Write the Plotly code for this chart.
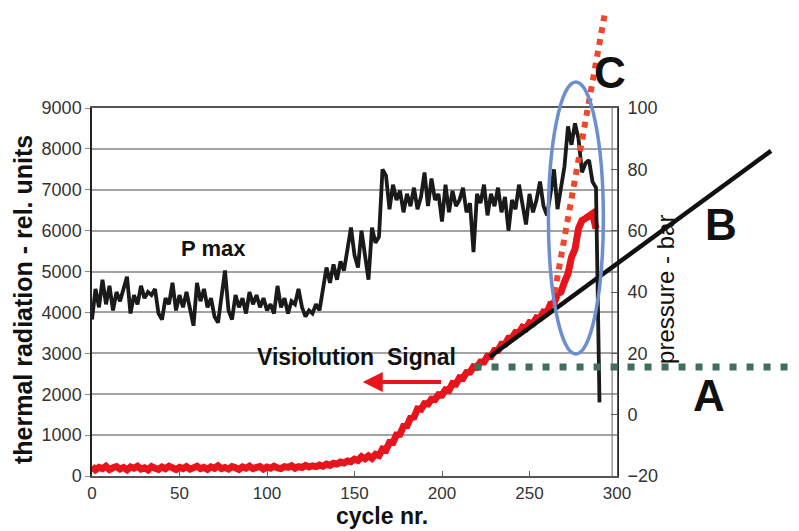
import plotly.graph_objects as go

# ---------------- data ----------------
cycles = list(range(0, 292, 2))  # cycle numbers, every 2nd cycle

# P max (pressure, bar)
p_max = [
    31, 41, 35, 44, 36, 42, 34, 40, 37, 41, 45, 33, 39, 36, 42, 38, 40, 39, 41, 33,
    31, 38, 36, 43, 34, 39, 35, 40, 34, 29, 43, 37, 41, 35, 38, 32, 30, 38, 47, 34,
    31, 39, 35, 38, 33, 40, 36, 39, 35, 38, 34, 36, 33, 42, 35, 38, 33, 37, 36, 41,
    35, 32, 34, 33, 36, 34, 41, 48, 43, 49, 44, 50, 47, 55, 61, 52, 48, 60, 52, 44,
    61, 56, 58, 80, 78, 67, 75, 70, 73, 66, 72, 68, 74, 67, 71, 79, 68, 77, 70, 72,
    63, 75, 66, 73, 68, 70, 74, 66, 69, 53, 72, 69, 75, 65, 72, 68, 74, 66, 71, 60,
    70, 67, 75, 69, 62, 72, 66, 70, 76, 68, 65, 72, 80, 67, 74, 81, 94, 88, 95, 90,
    79, 82, 83, 76, 74, 4,
]

# Visiolution signal (thermal radiation, rel. units)
visiolution = [
    230, 150, 210, 180, 240, 160, 200, 230, 170, 210, 150, 220, 190, 240, 170, 200,
    150, 230, 190, 160, 220, 180, 240, 200, 160, 210, 180, 230, 170, 200, 240, 180,
    210, 160, 220, 190, 250, 180, 210, 170, 230, 200, 160, 220, 190, 240, 180, 210,
    230, 170, 220, 190, 240, 200, 180, 230, 210, 250, 190, 230, 210, 260, 220, 250,
    230, 270, 240, 290, 260, 310, 290, 340, 320, 370, 350, 410, 380, 470, 420, 490,
    430, 530, 500, 660, 640, 820, 820, 1010, 1020, 1220, 1230, 1420, 1440, 1640, 1630, 1770,
    1760, 1880, 1870, 1990, 1980, 2110, 2100, 2260, 2250, 2400, 2390, 2530, 2540, 2670,
    2660, 2790, 2790, 2930, 2920, 3070, 3070, 3220, 3220, 3370, 3380, 3510, 3500, 3640,
    3610, 3750, 3730, 3870, 3860, 4010, 4000, 4200, 4220, 4450, 4500, 4750, 4950, 5350,
    5550, 6050, 6250, 6300, 6350, 6420, 6050,
]
vis_cycles = cycles[:len(visiolution)]

x_ticks = [0, 50, 100, 150, 200, 250, 300]
y_ticks = [0, 1000, 2000, 3000, 4000, 5000, 6000, 7000, 8000, 9000]
y2_ticks = [-20, 0, 20, 40, 60, 80, 100]

X_RANGE = [0, 300]
Y_RANGE = [0, 9000]
Y2_RANGE = [-20, 100]


def to_paper(c, v):
    """cycle / thermal-units -> paper coordinates (may lie outside 0..1)"""
    return ((c - X_RANGE[0]) / (X_RANGE[1] - X_RANGE[0]),
            (v - Y_RANGE[0]) / (Y_RANGE[1] - Y_RANGE[0]))


FONT = "Liberation Sans, Arial, sans-serif"

fig = go.Figure()
fig.add_trace(go.Scatter(
    x=vis_cycles, y=visiolution, mode="lines", name="Visiolution Signal",
    line=dict(color="#e8141c", width=7), yaxis="y"))
fig.add_trace(go.Scatter(
    x=cycles, y=p_max, mode="lines", name="P max",
    line=dict(color="#1a1a1a", width=3.8), yaxis="y2"))

shapes = []
# darker grid lines
for v in (5000, 7000):
    shapes.append(dict(type="line", xref="x", yref="y", x0=0, x1=300, y0=v, y1=v,
                       line=dict(color="#111", width=1.2), layer="below"))
# inner right border (double line)
shapes.append(dict(type="line", xref="x", yref="paper", x0=297.2, x1=297.2, y0=0, y1=1,
                   line=dict(color="#666", width=1)))

# A : green dotted horizontal
ax0, ay0 = to_paper(218.6, 2666)
ax1, ay1 = to_paper(404, 2666)
shapes.append(dict(type="line", xref="paper", yref="paper", x0=ax0, y0=ay0, x1=ax1, y1=ay1,
                   line=dict(color="#41705a", width=7, dash="7px,10px")))
# B : black solid
bx0, by0 = to_paper(227.2, 2911)
bx1, by1 = to_paper(388, 7950)
shapes.append(dict(type="line", xref="paper", yref="paper", x0=bx0, y0=by0, x1=bx1, y1=by1,
                   line=dict(color="#111", width=4.5)))
# C : red dotted
cx0, cy0 = to_paper(264.3, 4476)
cx1, cy1 = to_paper(293.4, 11398)
shapes.append(dict(type="line", xref="paper", yref="paper", x0=cx0, y0=cy0, x1=cx1, y1=cy1,
                   line=dict(color="#f0462a", width=6, dash="dot")))
# blue ellipse
ex0, ey0 = to_paper(260.8, 2984)
ex1, ey1 = to_paper(292.2, 9637)
shapes.append(dict(type="circle", xref="paper", yref="paper", x0=ex0, y0=ey0, x1=ex1, y1=ey1,
                   line=dict(color="#6d8fd0", width=3.5)))

annotations = []


def label(text, c, v, size, bold=True, angle=0, color="#111", yanchor="middle"):
    px, py = to_paper(c, v)
    annotations.append(dict(
        text=("<b>%s</b>" % text) if bold else text, x=px, y=py, xref="paper", yref="paper",
        showarrow=False, textangle=angle, xanchor="center", yanchor=yanchor,
        font=dict(family=FONT, size=size, color=color)))


label("C", 296, 9860, 44)
label("B", 359.6, 6140, 44)
label("A", 352.7, 1957, 44)
label("P max", 69.6, 5552, 22)
label("Visiolution&nbsp;&nbsp;Signal", 151.3, 2911, 23)
label("thermal radiation - rel. units", -39.4, 4305, 25, angle=-90)
label("pressure - bar", 328, 4550, 24, bold=False, angle=-90)
label("cycle nr.", 165.7, -600, 23, yanchor="top")

# arrow pointing left below the label
annotations.append(dict(
    x=154.7, y=2299, ax=200.3, ay=2299, xref="x", yref="y", axref="x", ayref="y",
    text="", showarrow=True, arrowhead=2, arrowsize=1, arrowwidth=4,
    arrowcolor="#e8141c", standoff=0))

# the page body adds an 8px offset, so the figure is 8px smaller than the window
fig.update_layout(
    width=791, height=523,
    margin=dict(l=84, r=182, t=100, b=55),
    paper_bgcolor="white", plot_bgcolor="white",
    showlegend=False,
    font=dict(family=FONT, size=18, color="#333"),
    xaxis=dict(range=X_RANGE, tickvals=x_ticks, ticks="inside", ticklen=5, tickcolor="#666",
               showline=True, linecolor="#555", linewidth=1.5, mirror=True,
               showgrid=False, zeroline=False, ticklabelstandoff=1,
               tickfont=dict(family=FONT, size=17, color="#333")),
    yaxis=dict(range=Y_RANGE, tickvals=y_ticks, ticks="outside", ticklen=5, tickcolor="#888",
               showline=True, linecolor="#222", linewidth=1.5, mirror=True,
               showgrid=True, gridcolor="#a3a3a3", gridwidth=2, zeroline=False,
               tickfont=dict(family=FONT, size=18, color="#333")),
    yaxis2=dict(range=Y2_RANGE, tickvals=y2_ticks, overlaying="y", side="right",
                ticks="inside", ticklen=6, tickcolor="#555", showline=True, linecolor="#555",
                showgrid=False, zeroline=False, ticklabelstandoff=6,
                tickfont=dict(family=FONT, size=18, color="#333")),
    shapes=shapes,
    annotations=annotations,
)

fig.write_html("out.html")
